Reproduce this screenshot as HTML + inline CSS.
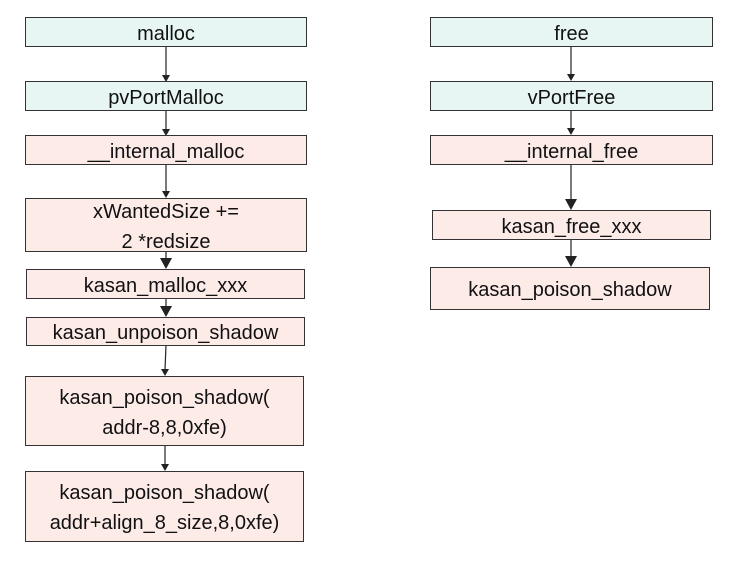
<!DOCTYPE html>
<html><head><meta charset="utf-8"><style>
html,body{margin:0;padding:0;background:#fff;}
body{width:738px;height:570px;position:relative;overflow:hidden;font-family:"Liberation Sans","Noto Sans CJK SC",sans-serif;}
.b{position:absolute;box-sizing:border-box;border:1px solid #333;display:flex;align-items:center;justify-content:center;text-align:center;font-size:20px;color:#111;line-height:30px;padding-top:3px;}
.t{background:#e8f6f3;}
.p{background:#fdebe8;}
svg{position:absolute;left:0;top:0;}
</style></head><body>
<svg width="738" height="570">
<g stroke="#222" stroke-width="1.2" fill="none">
<line x1="166" y1="46" x2="166" y2="76"/>
<line x1="166" y1="110" x2="166" y2="130"/>
<line x1="166" y1="164" x2="166" y2="192"/>
<line x1="166" y1="251" x2="166" y2="260"/>
<line x1="166" y1="298" x2="166" y2="307"/>
<line x1="166" y1="345" x2="165" y2="370"/>
<line x1="165" y1="445" x2="165" y2="465"/>
<line x1="571" y1="46" x2="571" y2="75"/>
<line x1="571" y1="110" x2="571" y2="129"/>
<line x1="571" y1="164" x2="571" y2="200"/>
<line x1="571" y1="239" x2="571" y2="257"/>
</g>
<g fill="#222">
<polygon points="162,75 170,75 166,82"/>
<polygon points="162,129 170,129 166,136"/>
<polygon points="162,191 170,191 166,198"/>
<polygon points="160,258 172,258 166,269"/>
<polygon points="160,306 172,306 166,317"/>
<polygon points="161,369 169,369 165,376"/>
<polygon points="161,464 169,464 165,471"/>
<polygon points="567,74 575,74 571,81"/>
<polygon points="567,128 575,128 571,135"/>
<polygon points="565,199 577,199 571,210"/>
<polygon points="565,256 577,256 571,267"/>
</g></svg>
<div class="b t" style="left:25px;top:17px;width:282px;height:30px;">malloc</div>
<div class="b t" style="left:25px;top:81px;width:282px;height:30px;">pvPortMalloc</div>
<div class="b p" style="left:25px;top:135px;width:282px;height:30px;">__internal_malloc</div>
<div class="b p" style="left:25px;top:198px;width:282px;height:54px;">xWantedSize +=<br>2 *redsize</div>
<div class="b p" style="left:26px;top:269px;width:279px;height:30px;">kasan_malloc_xxx</div>
<div class="b p" style="left:26px;top:317px;width:279px;height:29px;">kasan_unpoison_shadow</div>
<div class="b p" style="left:25px;top:376px;width:279px;height:70px;">kasan_poison_shadow(<br>addr-8,8,0xfe)</div>
<div class="b p" style="left:25px;top:471px;width:279px;height:71px;">kasan_poison_shadow(<br>addr+align_8_size,8,0xfe)</div>
<div class="b t" style="left:430px;top:17px;width:283px;height:30px;">free</div>
<div class="b t" style="left:430px;top:81px;width:283px;height:30px;">vPortFree</div>
<div class="b p" style="left:430px;top:135px;width:283px;height:30px;">__internal_free</div>
<div class="b p" style="left:432px;top:210px;width:279px;height:30px;">kasan_free_xxx</div>
<div class="b p" style="left:430px;top:267px;width:280px;height:43px;">kasan_poison_shadow</div>
</body></html>
